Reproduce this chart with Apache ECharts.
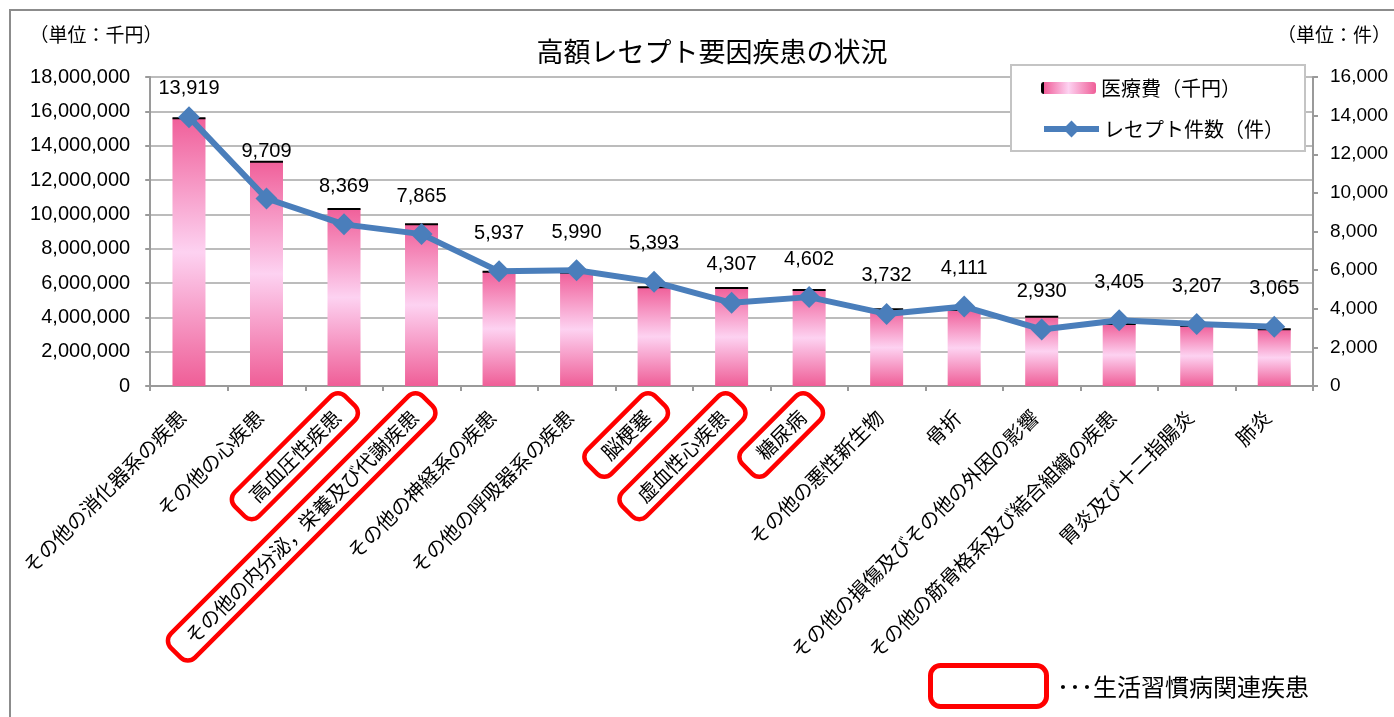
<!DOCTYPE html>
<html>
<head>
<meta charset="utf-8">
<script src="https://cdn.jsdelivr.net/npm/echarts@6/dist/echarts.min.js"></script>
<style>
html,body{margin:0;padding:0;background:#fff;}
#c{width:1394px;height:717px;}
</style>
</head>
<body>
<div id="c"></div>
<script>
const categories = [
  'その他の消化器系の疾患','その他の心疾患','高血圧性疾患','その他の内分泌，栄養及び代謝疾患',
  'その他の神経系の疾患','その他の呼吸器系の疾患','脳梗塞','虚血性心疾患','糖尿病',
  'その他の悪性新生物','骨折','その他の損傷及びその他の外因の影響','その他の筋骨格系及び結合組織の疾患',
  '胃炎及び十二指腸炎','肺炎'
];
const costs = [15590000,13070000,10310000,9420000,6660000,6600000,5750000,5710000,5590000,4470000,4430000,4040000,3610000,3500000,3300000];
const counts = [13919,9709,8369,7865,5937,5990,5393,4307,4602,3732,4111,2930,3405,3207,3065];
const lifestyle = ['高血圧性疾患','その他の内分泌，栄養及び代謝疾患','脳梗塞','虚血性心疾患','糖尿病'];
const costAxis = {min:0, max:18000000, step:2000000};
const countAxis = {min:0, max:16000, step:2000};
const costName = '医療費（千円）';
const countName = 'レセプト件数（件）';
const titleText = '高額レセプト要因疾患の状況';
const unitLeft = '（単位：千円）';
const unitRight = '（単位：件）';
const noteText = '･･･生活習慣病関連疾患';

const JP = '"Noto Sans CJK JP", "Noto Sans", sans-serif';
const NUM = '"Liberation Sans", Arial, sans-serif';
const fmt = v => Number(v).toLocaleString('en-US');

const chart = echarts.init(document.getElementById('c'), null, {renderer:'canvas'});
const barGrad = new echarts.graphic.LinearGradient(0,0,0,1,[
  {offset:0, color:'#F0609A'},
  {offset:0.5, color:'#FDD2F1'},
  {offset:1, color:'#EF5E97'}
]);
const legendGrad = new echarts.graphic.LinearGradient(0,0,1,0,[
  {offset:0, color:'#000'},
  {offset:0.05, color:'#000'},
  {offset:0.06, color:'#F0609A'},
  {offset:0.5, color:'#FDD2F1'},
  {offset:1, color:'#EF5E97'}
]);
const gray = '#9A9A9A';
const lineColor = '#4A7EBB';
const richBase = {fontFamily:JP, fontSize:20, color:'#000', lineHeight:22, padding:[7,18]};

// label distance tweaks for the first two points (as in the original layout)
const labelDist = [8, 26];
const lineData = counts.map((v,i) => labelDist[i] !== undefined ? {value:v, label:{distance:labelDist[i]}} : v);

const legendText = {fontFamily:JP, fontSize:20, color:'#000'};

chart.setOption({
  animation:false,
  title:{
    text:titleText, left:707, top:47, textAlign:'center', textVerticalAlign:'middle',
    textStyle:{fontFamily:JP, fontSize:27, fontWeight:'normal', color:'#000'}
  },
  legend:[
    {
      orient:'vertical', left:1041, top:78, padding:0, z:20,
      itemWidth:55, itemHeight:12,
      textStyle:legendText,
      data:[{name:costName, itemStyle:{color:legendGrad}}]
    },
    {
      orient:'vertical', left:1041, top:119, padding:0, z:20,
      itemWidth:55, itemHeight:21,
      textStyle:legendText,
      lineStyle:{width:6},
      data:[{name:countName}]
    }
  ],
  grid:{left:145, right:81, top:77, bottom:331, containLabel:false},
  xAxis:{
    type:'category', data:categories,
    axisLine:{show:true, lineStyle:{color:gray, width:2}},
    axisTick:{show:true, length:5, lineStyle:{color:gray, width:2}},
    axisLabel:{
      interval:0, rotate:45, margin:9, padding:[17,0,0,0],
      fontFamily:JP, fontSize:20, color:'#000',
      formatter: v => lifestyle.includes(v) ? '{b|'+v+'}' : '{n|'+v+'}',
      rich:{
        b:Object.assign({}, richBase, {borderColor:'#FF0000', borderWidth:4.5, borderRadius:10}),
        n:Object.assign({}, richBase)
      }
    }
  },
  yAxis:[
    {
      type:'value', min:costAxis.min, max:costAxis.max, interval:costAxis.step,
      axisLine:{show:true, lineStyle:{color:gray, width:2}},
      axisTick:{show:true, length:5, lineStyle:{color:gray, width:2}},
      axisLabel:{margin:20, fontFamily:NUM, fontSize:20, color:'#000', formatter:fmt},
      splitLine:{show:true, lineStyle:{color:'#A6A6A6', width:1.5}}
    },
    {
      type:'value', min:countAxis.min, max:countAxis.max, interval:countAxis.step,
      axisLine:{show:true, lineStyle:{color:gray, width:2}},
      axisTick:{show:true, length:5, lineStyle:{color:gray, width:2}},
      axisLabel:{margin:17, fontFamily:NUM, fontSize:19, color:'#000', formatter:fmt},
      splitLine:{show:false}
    }
  ],
  series:[
    {
      name:costName, type:'bar', data:costs, barWidth:33, yAxisIndex:0,
      itemStyle:{color:barGrad}, z:2
    },
    {
      name:'top', type:'pictorialBar', data:costs, yAxisIndex:0,
      symbol:'rect', symbolSize:[33,2], symbolPosition:'end', symbolOffset:[0,'-50%'],
      itemStyle:{color:'#000'}, z:3, silent:true, legendHoverLink:false
    },
    {
      name:countName, type:'line', data:lineData, yAxisIndex:1,
      symbol:'diamond', symbolSize:22,
      lineStyle:{color:lineColor, width:6},
      itemStyle:{color:lineColor},
      label:{show:true, position:'top', distance:17, fontFamily:NUM, fontSize:20, color:'#000', formatter:p=>fmt(p.value)},
      z:5
    }
  ],
  graphic:[
    {type:'rect', shape:{x:10, y:10, width:1400, height:720}, style:{fill:'none', stroke:'#8C8C8C', lineWidth:2}, silent:true, z:-1},
    {type:'rect', shape:{x:1011, y:65, width:294, height:86}, style:{fill:'#fff', stroke:'#C4C4C4', lineWidth:2}, silent:true, z:10},
    {type:'text', x:96, y:35, style:{text:unitLeft, fontFamily:JP, fontSize:19, fill:'#000', textAlign:'center', textVerticalAlign:'middle'}},
    {type:'text', x:1334, y:35, style:{text:unitRight, fontFamily:JP, fontSize:19, fill:'#000', textAlign:'center', textVerticalAlign:'middle'}},
    {type:'rect', shape:{x:930.5, y:665.5, width:116, height:41, r:10}, style:{fill:'none', stroke:'#FF0000', lineWidth:5}},
    {type:'text', x:1057, y:687, style:{text:noteText, fontFamily:JP, fontSize:24, fill:'#000', textAlign:'left', textVerticalAlign:'middle'}}
  ]
});
</script>
</body>
</html>
